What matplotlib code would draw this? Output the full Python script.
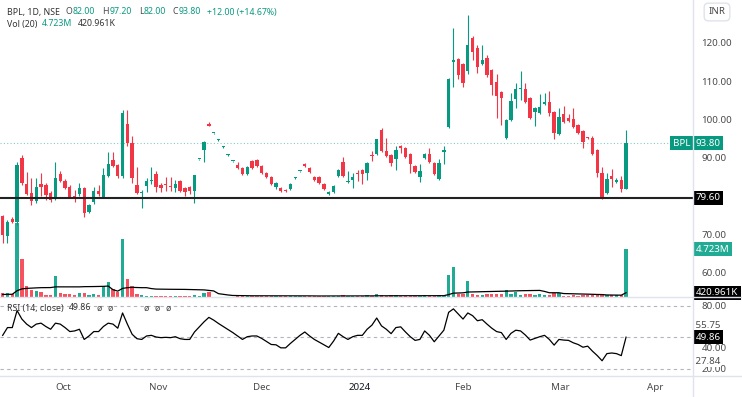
import matplotlib.pyplot as plt
from matplotlib.lines import Line2D

plt.rcParams['font.family'] = ['Noto Sans', 'DejaVu Sans']

# daily candles BPL (NSE), one entry per trading day
opens = [74.8, 69.5, 74.0, 73.3, 90.0, 83.2, 80.8, 78.7, 83.2, 82.9,
         80.8, 79.3, 85.8, 84.0, 82.4, 80.0, 80.6, 82.1, 75.9, 78.5,
         81.4, 79.8, 85.2, 89.4, 88.1, 85.3, 98.9, 94.0, 82.9, 80.8,
         82.7, 84.0, 85.8, 82.9, 83.0, 82.7, 82.1, 84.0, 82.1, 82.4,
         81.4, 89.6, 92.1, 98.9, 96.4, 94.6, 92.8, 90.7, 89.1, 88.1,
         87.3, 85.8, 89.2, 89.4, 87.9, 86.1, 85.0, 82.4, 82.1, 81.6,
         81.9, 84.7, 86.5, 88.4, 87.3, 85.0, 85.0, 83.2, 80.6, 81.1,
         85.3, 88.9, 83.6, 84.2, 86.1, 86.8, 86.1, 90.6, 91.0, 97.3,
         91.8, 90.8, 89.7, 93.1, 92.6, 91.0, 87.9, 85.0, 90.0, 91.0,
         88.7, 84.5, 91.5, 98.1, 115.0, 115.8, 114.5, 112.7, 121.3, 118.7,
         114.5, 116.1, 113.0, 109.8, 107.2, 95.1, 99.9, 105.4, 107.9, 108.0,
         105.6, 101.9, 101.7, 104.1, 104.6, 102.0, 96.2, 101.5, 100.4, 100.1,
         98.6, 97.0, 95.3, 95.2, 92.1, 86.1, 80.8, 85.3, 83.7, 84.2,
         82.0]
highs = [75.2, 73.8, 74.5, 89.0, 90.8, 86.2, 84.8, 84.8, 86.0, 83.5,
         81.3, 89.0, 86.5, 84.5, 83.0, 81.6, 83.5, 82.5, 78.0, 82.5,
         83.0, 87.3, 91.5, 91.5, 88.5, 102.5, 102.5, 95.7, 87.7, 81.6,
         84.7, 87.6, 86.6, 83.5, 85.0, 85.0, 84.2, 84.2, 82.5, 82.6,
         85.6, 89.8, 94.3, 99.3, 96.6, 94.8, 93.0, 90.9, 89.3, 89.0,
         87.5, 87.8, 89.5, 89.6, 88.1, 86.3, 85.2, 83.6, 82.3, 81.8,
         83.4, 84.9, 86.7, 88.6, 87.5, 85.2, 85.2, 83.4, 81.3, 82.9,
         87.0, 90.2, 86.6, 86.0, 86.8, 87.0, 89.0, 91.9, 95.0, 97.7,
         95.3, 91.0, 93.1, 93.3, 92.8, 91.2, 88.1, 88.4, 91.3, 92.6,
         88.9, 89.6, 93.1, 110.8, 123.8, 116.0, 114.7, 127.3, 121.8, 119.5,
         119.5, 116.9, 113.2, 111.9, 107.4, 100.1, 106.9, 109.6, 112.7, 109.6,
         105.8, 103.4, 106.8, 107.0, 107.5, 102.2, 103.0, 103.5, 101.5, 102.9,
         98.8, 97.2, 95.5, 95.6, 92.3, 87.5, 86.0, 87.0, 84.8, 85.2,
         97.2]
lows = [67.8, 67.8, 73.0, 72.5, 83.0, 80.3, 77.7, 78.2, 80.0, 79.0,
        78.5, 79.0, 83.8, 82.0, 79.5, 78.4, 80.0, 74.6, 75.5, 78.0,
        80.0, 79.5, 85.0, 87.5, 84.8, 84.8, 93.1, 83.4, 80.6, 76.8,
        81.2, 83.2, 81.1, 81.0, 81.4, 81.4, 81.2, 81.0, 80.0, 80.5,
        78.2, 89.5, 89.0, 98.2, 96.3, 94.5, 92.7, 90.6, 89.0, 87.0,
        85.5, 85.5, 87.0, 87.7, 85.9, 84.8, 83.0, 82.0, 81.2, 81.2,
        81.7, 84.6, 86.4, 87.7, 86.1, 84.0, 83.2, 81.7, 80.2, 80.9,
        85.0, 85.0, 83.4, 82.2, 84.0, 83.1, 84.2, 89.3, 90.8, 91.5,
        90.3, 87.9, 86.8, 91.2, 90.0, 86.0, 86.1, 83.7, 89.8, 88.7,
        85.6, 84.3, 88.4, 97.9, 108.6, 110.7, 108.6, 112.0, 115.5, 112.2,
        114.3, 111.2, 106.3, 100.4, 98.6, 94.9, 99.7, 102.9, 105.1, 104.4,
        100.2, 98.3, 101.5, 103.9, 101.0, 95.0, 96.0, 99.0, 99.4, 97.9,
        96.3, 92.6, 95.0, 90.8, 85.0, 79.4, 80.6, 82.3, 83.5, 81.2,
        82.0]
closes = [69.8, 73.3, 73.3, 88.1, 83.4, 80.6, 78.7, 82.4, 82.4, 80.3,
          79.0, 84.8, 84.0, 82.1, 79.8, 79.8, 82.1, 75.6, 77.7, 81.4,
          80.6, 85.5, 88.4, 87.9, 85.2, 101.7, 93.9, 84.7, 80.8, 81.1,
          84.0, 84.3, 82.4, 82.1, 82.8, 82.3, 83.2, 81.4, 81.1, 81.4,
          85.5, 89.7, 94.2, 98.4, 96.5, 94.7, 92.9, 90.8, 89.2, 87.3,
          85.8, 87.6, 87.3, 87.9, 86.1, 85.0, 83.2, 83.4, 81.4, 81.4,
          83.2, 84.8, 86.6, 87.9, 86.3, 84.2, 83.4, 81.9, 81.1, 82.7,
          86.8, 85.3, 83.8, 85.0, 85.8, 85.8, 88.7, 90.5, 94.9, 91.8,
          90.5, 88.7, 92.1, 92.6, 90.2, 88.4, 86.3, 86.6, 91.0, 88.9,
          85.8, 88.7, 92.1, 110.6, 115.5, 111.6, 109.6, 119.5, 117.7, 113.7,
          115.5, 111.6, 109.0, 106.2, 105.6, 99.9, 104.9, 108.0, 108.1, 104.6,
          100.4, 102.9, 103.3, 104.6, 101.7, 96.5, 100.7, 99.4, 99.6, 98.1,
          96.5, 94.2, 95.2, 91.0, 86.1, 79.8, 84.5, 84.5, 84.2, 81.8,
          93.8]
# volume in millions
volumes = [0.35, 0.35, 0.25, 7.3, 3.7, 1.1, 0.66, 0.6, 0.5, 0.23,
           0.23, 2.1, 0.4, 0.3, 0.33, 0.17, 0.4, 0.4, 0.23, 0.33,
           0.23, 1.06, 1.5, 0.8, 0.5, 5.7, 1.75, 1.1, 0.33, 0.17,
           0.12, 0.08, 0.1, 0.06, 0.1, 0.08, 0.1, 0.12, 0.08, 0.1,
           0.15, 0.05, 0.4, 0.5, 0.03, 0.03, 0.02, 0.03, 0.03, 0.08,
           0.1, 0.1, 0.08, 0.1, 0.08, 0.1, 0.12, 0.1, 0.08, 0.06,
           0.1, 0.05, 0.05, 0.08, 0.1, 0.1, 0.12, 0.1, 0.12, 0.1,
           0.12, 0.15, 0.08, 0.1, 0.08, 0.1, 0.2, 0.12, 0.27, 0.2,
           0.12, 0.15, 0.15, 0.1, 0.12, 0.12, 0.1, 0.12, 0.15, 0.12,
           0.1, 0.15, 0.12, 2.2, 3.0, 0.33, 0.33, 1.6, 0.33, 0.23,
           0.17, 0.33, 0.33, 0.33, 0.33, 0.66, 0.33, 0.5, 0.23, 0.27,
           0.33, 0.17, 0.27, 0.17, 0.17, 0.4, 0.4, 0.13, 0.13, 0.15,
           0.13, 0.2, 0.15, 0.2, 0.2, 0.25, 0.2, 0.15, 0.2, 0.2,
           4.723]
vol_ma = [0.25, 0.26, 0.27, 0.62, 0.8, 0.85, 0.88, 0.9, 0.92, 0.92,
          0.93, 1.0, 1.0, 1.0, 1.0, 1.0, 1.0, 1.02, 1.02, 1.03,
          1.04, 1.05, 1.08, 0.72, 0.58, 0.85, 0.92, 0.95, 0.93, 0.92,
          0.92, 0.83, 0.78, 0.77, 0.77, 0.76, 0.76, 0.75, 0.75, 0.74,
          0.74, 0.73, 0.7, 0.65, 0.6, 0.33, 0.26, 0.2, 0.15, 0.14,
          0.13, 0.13, 0.12, 0.12, 0.12, 0.12, 0.13, 0.13, 0.12, 0.12,
          0.12, 0.12, 0.11, 0.11, 0.11, 0.1, 0.1, 0.1, 0.1, 0.1,
          0.1, 0.1, 0.1, 0.1, 0.1, 0.1, 0.11, 0.11, 0.12, 0.12,
          0.12, 0.12, 0.12, 0.12, 0.12, 0.12, 0.12, 0.12, 0.13, 0.13,
          0.13, 0.13, 0.13, 0.24, 0.38, 0.4, 0.41, 0.49, 0.5, 0.5,
          0.51, 0.52, 0.53, 0.54, 0.55, 0.58, 0.59, 0.61, 0.62, 0.63,
          0.64, 0.64, 0.65, 0.55, 0.42, 0.42, 0.42, 0.34, 0.33, 0.32,
          0.31, 0.3, 0.28, 0.26, 0.25, 0.24, 0.2, 0.19, 0.18, 0.18,
          0.42]
rsi = [51.6, 59.0, 59.0, 75.2, 67.1, 62.3, 59.0, 62.3, 63.2, 60.0,
       57.4, 63.2, 62.3, 59.0, 55.2, 55.8, 57.4, 47.7, 51.0, 55.2,
       55.2, 60.0, 63.2, 62.3, 58.4, 72.9, 62.3, 52.6, 48.4, 47.7,
       51.0, 51.6, 50.0, 49.4, 49.7, 49.4, 50.3, 48.4, 47.7, 47.7,
       54.8, 59.7, 64.5, 68.7, 66.1, 62.9, 60.0, 57.1, 54.2, 51.0,
       47.7, 50.3, 51.0, 51.0, 48.7, 45.8, 42.9, 42.6, 39.7, 39.7,
       43.9, 47.7, 51.6, 54.8, 51.0, 47.7, 45.2, 42.6, 40.0,
       46.1, 53.5, 50.3, 47.7, 50.3, 51.6, 51.6, 57.4, 61.3, 68.1,
       60.6, 57.4, 53.2, 59.0, 59.7, 54.8, 50.3, 46.8, 47.7, 55.8,
       51.6, 45.5, 51.0, 56.5, 73.5, 76.8, 71.9, 67.1, 72.9, 70.3,
       65.5, 66.5, 62.3, 58.4, 55.2, 54.2, 47.7, 53.5, 56.5, 55.8,
       51.9, 47.1, 48.7, 50.3, 51.6, 47.7, 42.3, 47.7, 47.1, 46.8,
       44.5, 42.9, 40.3, 41.3, 36.5, 32.3, 27.4, 34.2, 34.8, 34.2,
       32.3, 49.86]

month_pos = [12.6, 32.4, 53.9, 74.5, 96.0, 116.2, 136.0]
month_labels = ["Oct", "Nov", "Dec", "2024", "Feb", "Mar", "Apr"]
price_ticks = [60, 70, 90, 100, 110, 120]
support = 79.60

UP = "#089981"
DOWN = "#f23645"
VUP = "#22ab94"
VDOWN = "#f7525f"
TXT = "#4a4a4a"
DARK = "#333333"
GRID = "#e0e3eb"
W, H = 742, 397


def fx(px):
    return px / W


def fy(py):
    return 1 - py / H


fig = plt.figure(figsize=(W / 100, H / 100), dpi=100)
ax = fig.add_axes([0, fy(297), fx(693), 297 / H])
axv = ax.twinx()
axr = fig.add_axes([0, fy(376), fx(693), 79 / H])

idx = list(range(len(closes)))
is_up = [c >= o for o, c in zip(opens, closes)]
ccol = [UP if u else DOWN for u in is_up]
vcol = [VUP if u else VDOWN for u in is_up]
bottoms = [min(o, c) for o, c in zip(opens, closes)]
heights = [max(abs(c - o), 0.3) for o, c in zip(opens, closes)]

# candles
ax.vlines(idx, lows, highs, colors=ccol, lw=0.8, zorder=3)
ax.bar(idx, heights, 0.7, bottom=bottoms, color=ccol, lw=0, zorder=4)
ax.axhline(support, color="#222222", lw=1.5, zorder=5)
ax.axhline(closes[-1], color=UP, lw=0.8, ls=(0, (1, 2)), alpha=0.5, zorder=2)
ax.set_ylim(53.7, 131.2)
ax.set_xlim(-0.56, 143.96)

# volume overlay
axv.bar(idx, volumes, 0.7, color=vcol, lw=0)
axv.plot(idx, vol_ma, color="black", lw=0.9)
axv.set_ylim(0, 29.3)
axv.axis("off")
ax.set_zorder(axv.get_zorder() + 1)
ax.patch.set_visible(False)

ax.yaxis.tick_right()
ax.set_yticks(price_ticks)
ax.set_yticklabels([f"{v:.2f}" for v in price_ticks])
ax.tick_params(axis="y", length=0, pad=6, labelsize=7, labelcolor=TXT)
ax.tick_params(axis="x", bottom=False, labelbottom=False)
for s in ax.spines.values():
    s.set_visible(False)

# RSI pane
for lvl in (80, 50, 20):
    axr.axhline(lvl, color="#b2b5be", lw=0.8, ls=(0, (3, 3)))
axr.plot(idx, rsi, color="black", lw=0.9)
axr.set_ylim(12.9, 88.1)
axr.set_xlim(-0.56, 143.96)
axr.yaxis.tick_right()
axr.set_yticks([80, 40, 20])
axr.set_yticklabels(["80.00", "40.00", "20.00"])
axr.tick_params(axis="y", length=0, pad=6, labelsize=7, labelcolor=TXT)
axr.set_xticks(month_pos)
axr.set_xticklabels(month_labels)
axr.tick_params(axis="x", length=0, pad=5, labelsize=7, labelcolor=TXT)
for lab in axr.get_xticklabels():
    if lab.get_text() == "2024":
        lab.set_fontweight("bold")
        lab.set_color("#131722")
for s in axr.spines.values():
    s.set_visible(False)
axr.text(1.0, 60.8, " 55.75", transform=axr.get_yaxis_transform(), fontsize=7,
         color=TXT, va="center", ha="left", clip_on=False)
axr.text(1.0, 26.5, " 27.84", transform=axr.get_yaxis_transform(), fontsize=7,
         color=TXT, va="center", ha="left", clip_on=False,
         bbox=dict(boxstyle="square,pad=0.1", fc="white", ec="none"))


def tag(axis, y, text, bg):
    axis.text(1.004, y, text, transform=axis.get_yaxis_transform(), ha="left",
              va="center", fontsize=7, color="white", clip_on=False, zorder=10,
              bbox=dict(boxstyle="square,pad=0.25", fc=bg, ec="none"))


tag(ax, closes[-1], "93.80", UP)
tag(ax, support, "79.60", "black")
tag(axv, volumes[-1], "4.723M", VUP)
tag(axv, vol_ma[-1], "420.961K", "black")
tag(axr, rsi[-1], "49.86", "black")
ax.text(0.971, closes[-1], "BPL", transform=ax.get_yaxis_transform(), ha="left",
        va="center", fontsize=7, color="white", zorder=10,
        bbox=dict(boxstyle="square,pad=0.25", fc=UP, ec="none"))

# pane borders
for y in (297, 376):
    fig.add_artist(Line2D([0, 1], [fy(y), fy(y)], color=GRID, lw=1))
fig.add_artist(Line2D([fx(693), fx(693)], [0, 1], color=GRID, lw=1))

# legends: pieces chained one after another so they never overlap
fs = 6.3


def legend_line(axis, x0, y0, pieces):
    t = fig.text(fx(x0), fy(y0), pieces[0][0], color=pieces[0][1], fontsize=fs, va="center")
    for text, color, gap in pieces[1:]:
        t = axis.annotate(text, xy=(1, 0.5), xycoords=t, xytext=(gap, 0),
                          textcoords="offset points", va="center", ha="left",
                          fontsize=fs, color=color, annotation_clip=False)


legend_line(ax, 7, 12, [("BPL, 1D, NSE", DARK, 0),
                        ("O", TXT, 4), ("82.00", UP, 0.3),
                        ("H", TXT, 5.5), ("97.20", UP, 0.3),
                        ("L", TXT, 5), ("82.00", UP, 0.3),
                        ("C", TXT, 4.5), ("93.80", UP, 0.3),
                        ("+12.00 (+14.67%)", UP, 4.5)])
legend_line(ax, 7, 24, [("Vol (20)", DARK, 0), ("4.723M", UP, 3.5), ("420.961K", DARK, 3.5)])
legend_line(axr, 7, 308, [("RSI (14, close)", DARK, 0), ("49.86", DARK, 3.5),
                          ("ø", TXT, 4), ("ø", TXT, 4), ("ø", TXT, 22),
                          ("ø", TXT, 4), ("ø", TXT, 4)])

fig.text(fx(717), fy(12), "INR", fontsize=7, color=TXT, ha="center", va="center",
         bbox=dict(boxstyle="round,pad=0.45", fc="white", ec=GRID))

fig.savefig("out.png", dpi=100)
